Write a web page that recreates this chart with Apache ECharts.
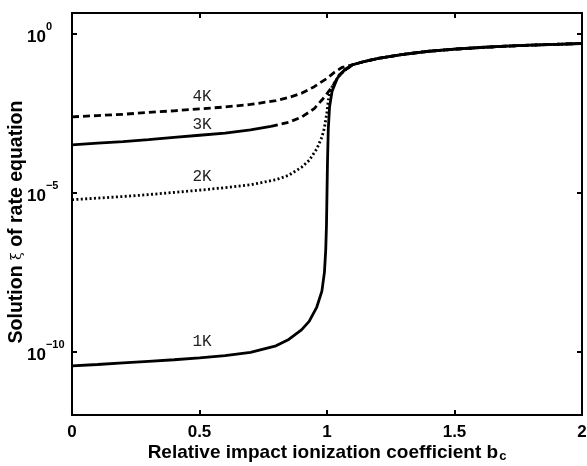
<!DOCTYPE html>
<html><head><meta charset="utf-8">
<script src="https://cdn.jsdelivr.net/npm/echarts@6/dist/echarts.min.js"></script>
<style>html,body{margin:0;padding:0;background:#fff}#c{width:587px;height:466px}</style>
</head><body><div id="c"></div>
<script>
// x ticks and y tick exponents (log10 of xi)
const xTicks = [0, 0.5, 1, 1.5, 2];
const yTickExponents = [-10, -5, 0];

// shared high-b tail (all curves merge)
const b_tail = [1.15, 1.2, 1.3, 1.4, 1.5, 1.6, 1.7, 1.8, 1.9, 2.0];
const log10xi_tail = [-0.86, -0.77, -0.64, -0.545, -0.478, -0.427, -0.386, -0.352, -0.325, -0.30];

// 4K (dashed)
const b_4K = [0, 0.1, 0.2, 0.3, 0.4, 0.5, 0.6, 0.7, 0.8, 0.85, 0.9, 0.95, 0.98, 1.0, 1.03, 1.06, 1.1];
const log10xi_4K = [-2.61, -2.57, -2.53, -2.47, -2.42, -2.36, -2.3, -2.22, -2.1, -2.0, -1.87, -1.66, -1.5, -1.4, -1.2, -1.05, -0.97];

// 3K (solid, then dashed near the transition)
const b_3K_solid = [0, 0.1, 0.2, 0.3, 0.4, 0.5, 0.6, 0.7, 0.78];
const log10xi_3K_solid = [-3.49, -3.44, -3.39, -3.33, -3.26, -3.19, -3.12, -3.02, -2.91];
const b_3K_dash = [0.78, 0.85, 0.9, 0.95, 0.98, 1.0, 1.02, 1.05, 1.1];
const log10xi_3K_dash = [-2.91, -2.78, -2.62, -2.35, -2.08, -1.88, -1.67, -1.27, -0.97];

// 2K (dotted)
const b_2K = [0, 0.1, 0.2, 0.3, 0.4, 0.5, 0.6, 0.7, 0.8, 0.85, 0.9, 0.93, 0.96, 0.98, 0.99, 1.0, 1.005, 1.01, 1.02, 1.05, 1.1];
const log10xi_2K = [-5.22, -5.17, -5.12, -5.06, -4.99, -4.92, -4.84, -4.75, -4.59, -4.45, -4.2, -3.98, -3.62, -3.25, -2.95, -2.45, -2.1, -1.88, -1.66, -1.27, -0.97];

// 1K (solid)
const b_1K = [0, 0.1, 0.2, 0.3, 0.4, 0.5, 0.6, 0.7, 0.8, 0.85, 0.9, 0.93, 0.96, 0.98, 0.99, 0.995, 0.998, 1.0, 1.002, 1.005, 1.01, 1.02, 1.04, 1.07, 1.1];
const log10xi_1K = [-10.45, -10.41, -10.36, -10.31, -10.26, -10.2, -10.13, -10.03, -9.82, -9.62, -9.32, -9.05, -8.6, -8.1, -7.5, -6.8, -6.0, -5.0, -4.0, -3.0, -2.3, -1.8, -1.4, -1.12, -0.97];

// curve annotations
const curveNames = ['4K', '3K', '2K', '1K'];
const curveLabelB = [0.51, 0.51, 0.51, 0.51];
const curveLabelLog = [-1.98, -2.86, -4.5, -9.69];

function pairs(xs, ys) { return xs.map((x, i) => [x, ys[i]]); }
function withTail(xs, ys) { return pairs(xs.concat(b_tail), ys.concat(log10xi_tail)); }

const FONT = 'Liberation Sans';
const chart = echarts.init(document.getElementById('c'), null, {renderer: 'canvas'});

const lineBase = {type: 'line', showSymbol: false, symbol: 'none', animation: false, silent: true, smooth: false};

chart.setOption({
  backgroundColor: '#fff',
  animation: false,
  grid: {left: 72, right: 5, top: 13, bottom: 51, containLabel: false, outerBoundsMode: 'none'},
  xAxis: [{
    type: 'value', min: 0, max: 2, interval: 0.5,
    axisLine: {show: true, onZero: false, lineStyle: {color: '#000', width: 2}},
    axisTick: {show: true, inside: true, length: 5, lineStyle: {color: '#000', width: 2}},
    axisLabel: {color: '#000', fontFamily: FONT, fontWeight: 'bold', fontSize: 17, margin: 9,
      formatter: v => String(v)},
    splitLine: {show: false},
    name: '{t|Relative impact ionization coefficient b}{s|c}',
    nameLocation: 'middle', nameGap: 28, nameMoveOverlap: false,
    nameTextStyle: {rich: {
      t: {fontFamily: FONT, fontWeight: 'bold', fontSize: 19, color: '#000', lineHeight: 20, verticalAlign: 'top'},
      s: {fontFamily: FONT, fontWeight: 'bold', fontSize: 13, color: '#000', lineHeight: 13, padding: [16, 0, 0, 1], verticalAlign: 'bottom'}
    }}
  }, {
    type: 'value', min: 0, max: 2, interval: 0.5, position: 'top',
    axisLine: {show: true, onZero: false, lineStyle: {color: '#000', width: 2}},
    axisTick: {show: true, inside: true, length: 5, lineStyle: {color: '#000', width: 2}},
    axisLabel: {show: false}, splitLine: {show: false}
  }],
  yAxis: [{
    type: 'value', min: -12, max: 0.66,
    axisLine: {show: true, onZero: false, lineStyle: {color: '#000', width: 2}},
    axisTick: {show: true, inside: true, length: 5, customValues: yTickExponents, lineStyle: {color: '#000', width: 2}},
    axisLabel: {show: true, customValues: yTickExponents, align: 'left', margin: 45,
      formatter: v => '{b|10}{s|' + (v < 0 ? '\u2212' + (-v) : String(v)) + '}',
      rich: {
        b: {fontFamily: FONT, fontWeight: 'bold', fontSize: 17, color: '#000', lineHeight: 24, verticalAlign: 'bottom'},
        s: {fontFamily: FONT, fontWeight: 'bold', fontSize: 11, color: '#000', lineHeight: 13, verticalAlign: 'top'}
      }},
    splitLine: {show: false},
    name: '{t|Solution }{g|\u03BE}{t| of rate equation}',
    nameLocation: 'middle', nameGap: 45, nameRotate: 90, nameMoveOverlap: false,
    nameTextStyle: {padding: [0, 16, 0, 0], rich: {
      t: {fontFamily: FONT, fontWeight: 'bold', fontSize: 19.5, color: '#000'},
      g: {fontFamily: 'DejaVu Serif', fontSize: 14, color: '#000'}
    }}
  }, {
    type: 'value', min: -12, max: 0.66, position: 'right',
    axisLine: {show: true, onZero: false, lineStyle: {color: '#000', width: 2}},
    axisTick: {show: true, inside: true, length: 5, customValues: yTickExponents, lineStyle: {color: '#000', width: 2}},
    axisLabel: {show: false}, splitLine: {show: false}
  }],
  series: [
    Object.assign({}, lineBase, {name: '1K', data: withTail(b_1K, log10xi_1K),
      lineStyle: {color: '#000', width: 2.8, type: 'solid'}}),
    Object.assign({}, lineBase, {name: '2K', data: withTail(b_2K, log10xi_2K),
      lineStyle: {color: '#000', width: 2.8, type: [2, 2.4], cap: 'butt'}}),
    Object.assign({}, lineBase, {name: '3K', data: pairs(b_3K_solid, log10xi_3K_solid),
      lineStyle: {color: '#000', width: 2.8, type: 'solid'}}),
    Object.assign({}, lineBase, {name: '3K', data: withTail(b_3K_dash, log10xi_3K_dash),
      lineStyle: {color: '#000', width: 2.8, type: [7, 4], cap: 'butt'}}),
    Object.assign({}, lineBase, {name: '4K', data: withTail(b_4K, log10xi_4K),
      lineStyle: {color: '#000', width: 2.8, type: [7, 4], cap: 'butt'}})
  ]
});

const texts = curveNames.map((n, i) => {
  const p = chart.convertToPixel({gridIndex: 0}, [curveLabelB[i], curveLabelLog[i]]);
  return {type: 'text', x: p[0], y: p[1], silent: true,
    style: {text: n, fill: '#222', font: '16px "Liberation Mono", monospace', align: 'center', verticalAlign: 'middle'}};
});
chart.setOption({graphic: texts});
</script>
</body></html>
